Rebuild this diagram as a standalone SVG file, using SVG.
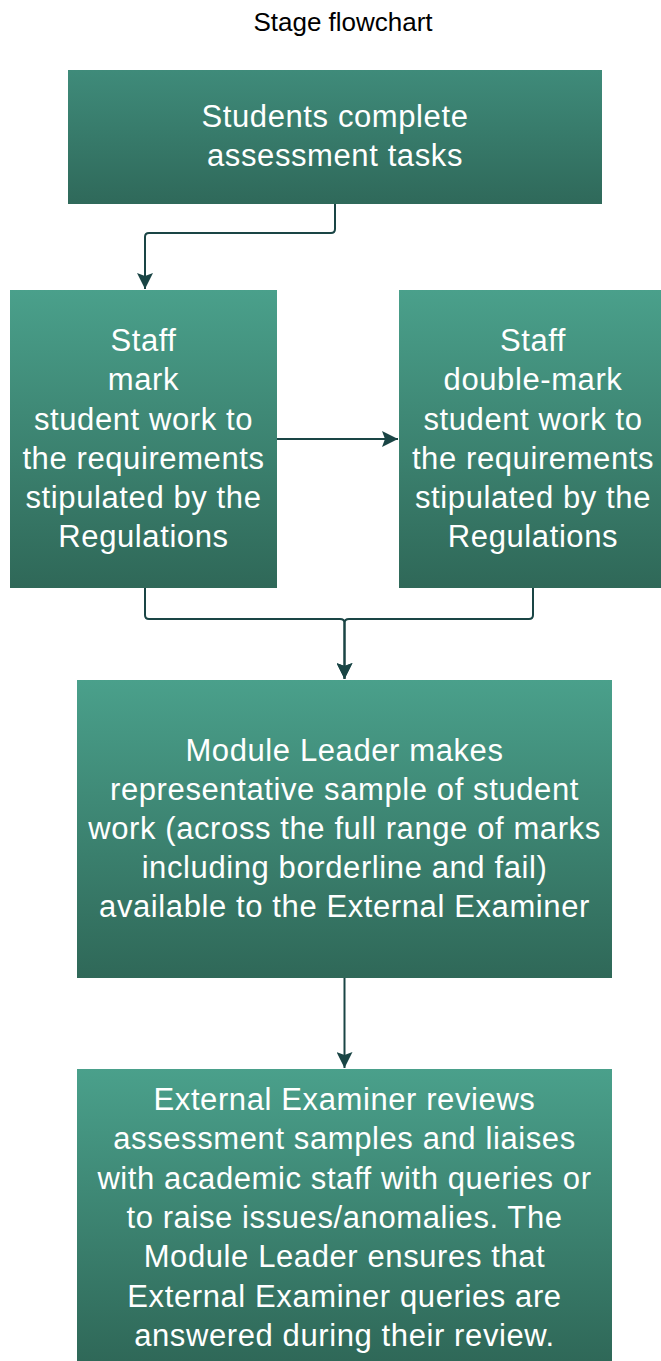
<svg xmlns="http://www.w3.org/2000/svg" width="661" height="1361" viewBox="0 0 661 1361">
  <defs>
    <linearGradient id="gTop" x1="0" y1="0" x2="0" y2="1">
      <stop offset="0" stop-color="#3f8b7a"/>
      <stop offset="1" stop-color="#2f695a"/>
    </linearGradient>
    <linearGradient id="gBox" x1="0" y1="0" x2="0" y2="1">
      <stop offset="0" stop-color="#4aa08b"/>
      <stop offset="1" stop-color="#2f6858"/>
    </linearGradient>
    <marker id="arrow" viewBox="0 0 16 16" refX="16" refY="8" markerWidth="16" markerHeight="16" markerUnits="userSpaceOnUse" orient="auto">
      <path d="M0,0 L16,8 L0,16 L3,8 Z" fill="#1a4545"/>
    </marker>
    <style>
      .t { font-family: "Liberation Sans", Arial, sans-serif; font-size: 31px; fill: #ffffff; text-anchor: middle; letter-spacing: 0.6px; }
      .title { font-family: "Liberation Sans", Arial, sans-serif; font-size: 26px; fill: #000000; text-anchor: middle; }
      .c { fill: none; stroke: #1a4545; stroke-width: 2; }
    </style>
  </defs>
  <rect width="661" height="1361" fill="#ffffff"/>
  <text class="title" x="343" y="31">Stage flowchart</text>

  <g id="connectors">
    <path class="c" d="M335,204 V229 Q335,233 331,233 H149 Q145,233 145,237 V289" marker-end="url(#arrow)"/>
    <path class="c" d="M277,439 H398" marker-end="url(#arrow)"/>
    <path class="c" d="M145,588 V615 Q145,619 149,619 H340 Q344.5,619 344.5,623 V679" marker-end="url(#arrow)"/>
    <path class="c" d="M533,588 V615 Q533,619 529,619 H349 Q344.5,619 344.5,623 V679" marker-end="url(#arrow)"/>
    <path class="c" d="M344.5,978 V1068" marker-end="url(#arrow)"/>
  </g>

  <g id="node-students">
    <rect x="68" y="70" width="534" height="134" fill="url(#gTop)"/>
    <text class="t" x="335" y="127">Students complete</text>
    <text class="t" x="335" y="166">assessment tasks</text>
  </g>

  <g id="node-staff-mark">
    <rect x="10" y="290" width="267" height="298" fill="url(#gBox)"/>
    <text class="t" x="143.5" y="351">Staff</text>
    <text class="t" x="143.5" y="390">mark</text>
    <text class="t" x="143.5" y="429.5">student work to</text>
    <text class="t" x="143.5" y="469">the requirements</text>
    <text class="t" x="143.5" y="508">stipulated by the</text>
    <text class="t" x="143.5" y="547">Regulations</text>
  </g>

  <g id="node-staff-double">
    <rect x="399" y="290" width="268" height="298" fill="url(#gBox)"/>
    <text class="t" x="533" y="351">Staff</text>
    <text class="t" x="533" y="390">double-mark</text>
    <text class="t" x="533" y="429.5">student work to</text>
    <text class="t" x="533" y="469">the requirements</text>
    <text class="t" x="533" y="508">stipulated by the</text>
    <text class="t" x="533" y="547">Regulations</text>
  </g>

  <g id="node-module-leader">
    <rect x="77" y="680" width="535" height="298" fill="url(#gBox)"/>
    <text class="t" x="344.5" y="761">Module Leader makes</text>
    <text class="t" x="344.5" y="800">representative sample of student</text>
    <text class="t" x="344.5" y="839">work (across the full range of marks</text>
    <text class="t" x="344.5" y="878">including borderline and fail)</text>
    <text class="t" x="344.5" y="917">available to the External Examiner</text>
  </g>

  <g id="node-external-examiner">
    <rect x="77" y="1069" width="535" height="292" fill="url(#gBox)"/>
    <text class="t" x="344.5" y="1110">External Examiner reviews</text>
    <text class="t" x="344.5" y="1149.3">assessment samples and liaises</text>
    <text class="t" x="344.5" y="1188.7">with academic staff with queries or</text>
    <text class="t" x="344.5" y="1228">to raise issues/anomalies. The</text>
    <text class="t" x="344.5" y="1267.3">Module Leader ensures that</text>
    <text class="t" x="344.5" y="1306.7">External Examiner queries are</text>
    <text class="t" x="344.5" y="1346">answered during their review.</text>
  </g>
</svg>
